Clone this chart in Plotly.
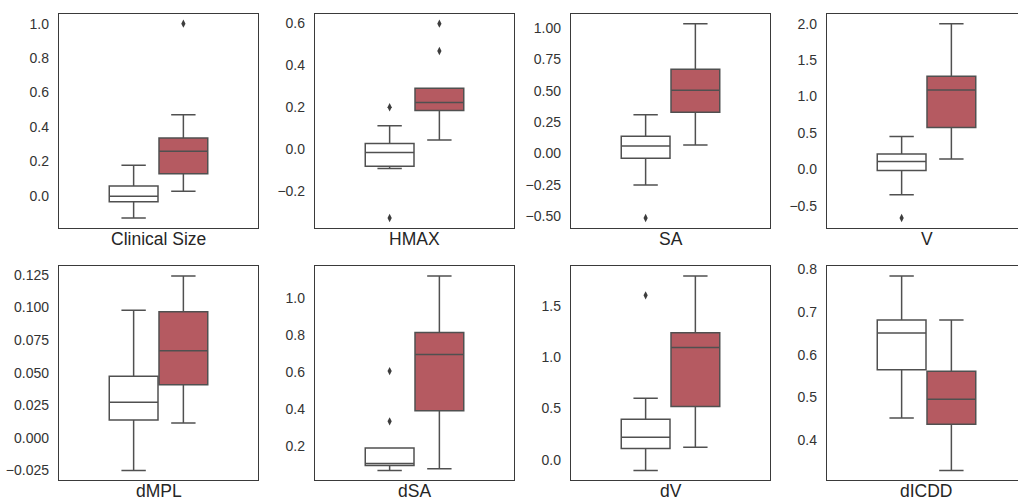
import plotly.graph_objects as go

categories = ["Clinical Size", "HMAX", "SA", "V", "dMPL", "dSA", "dV", "dICDD"]

white_lower  = [-0.130, -0.093, -0.250, -0.35, -0.0250, 0.065, -0.106, 0.452]
white_q1     = [-0.036, -0.082, -0.037, -0.018, 0.0137, 0.092, 0.109, 0.565]
white_median = [-0.004, -0.016, 0.061, 0.105, 0.0273, 0.103, 0.219, 0.651]
white_q3     = [0.056, 0.027, 0.137, 0.21, 0.0473, 0.187, 0.393, 0.681]
white_upper  = [0.177, 0.112, 0.308, 0.45, 0.0979, 0.187, 0.60, 0.784]
white_outliers = [[], [0.20, -0.329], [-0.513], [-0.67], [], [0.605, 0.332], [1.603], []]

red_lower  = [0.025, 0.044, 0.069, 0.14, 0.0114, 0.074, 0.122, 0.329]
red_q1     = [0.127, 0.184, 0.329, 0.573, 0.0407, 0.389, 0.519, 0.437]
red_median = [0.258, 0.222, 0.503, 1.087, 0.0668, 0.695, 1.094, 0.496]
red_q3     = [0.335, 0.290, 0.671, 1.278, 0.0966, 0.815, 1.239, 0.561]
red_upper  = [0.47, 0.290, 1.034, 2.0, 0.124, 1.121, 1.791, 0.681]
red_outliers = [[1.0], [0.599, 0.468], [], [], [], [], [], []]

tick_labels = [
    ["0.0", "0.2", "0.4", "0.6", "0.8", "1.0"],
    ["\u22120.2", "0.0", "0.2", "0.4", "0.6"],
    ["\u22120.50", "\u22120.25", "0.00", "0.25", "0.50", "0.75", "1.00"],
    ["\u22120.5", "0.0", "0.5", "1.0", "1.5", "2.0"],
    ["\u22120.025", "0.000", "0.025", "0.050", "0.075", "0.100", "0.125"],
    ["0.2", "0.4", "0.6", "0.8", "1.0"],
    ["0.0", "0.5", "1.0", "1.5"],
    ["0.4", "0.5", "0.6", "0.7", "0.8"],
]

W, H = 1018, 502
WHITE_POS, RED_POS, BOX_W = -0.125, 0.125, 0.245
LINE_C = "#505050"
FRAME_C = "#3a3a3a"
RED_C = "#b55a61"
FONT = "Liberation Sans, Arial, sans-serif"

fig = go.Figure()
layout = dict(width=W, height=H, margin=dict(l=0, r=0, t=0, b=0),
              paper_bgcolor="white", plot_bgcolor="white", showlegend=False)
annotations = []

for i, cat in enumerate(categories):
    row, col = divmod(i, 4)
    left = 59 + 256 * col
    right = left + 199
    top = 9 if row == 0 else 264
    bottom = 225 if row == 0 else 480
    xr_hi = -0.5 + (min(right, W) - left) / 199.0
    xd = [left / W, min(right, W) / W]
    yd = [1 - bottom / H, 1 - top / H]
    n = i + 1
    xa = "x" if n == 1 else f"x{n}"
    ya = "y" if n == 1 else f"y{n}"

    fig.add_trace(go.Box(
        x=[WHITE_POS], q1=[white_q1[i]], median=[white_median[i]], q3=[white_q3[i]],
        lowerfence=[white_lower[i]], upperfence=[white_upper[i]],
        width=BOX_W, whiskerwidth=0.5, fillcolor="white",
        line=dict(color=LINE_C, width=1.5), boxpoints=False,
        xaxis=xa, yaxis=ya, hoverinfo="skip"))
    fig.add_trace(go.Box(
        x=[RED_POS], q1=[red_q1[i]], median=[red_median[i]], q3=[red_q3[i]],
        lowerfence=[red_lower[i]], upperfence=[red_upper[i]],
        width=BOX_W, whiskerwidth=0.5, fillcolor=RED_C,
        line=dict(color=LINE_C, width=1.5), boxpoints=False,
        xaxis=xa, yaxis=ya, hoverinfo="skip"))
    if white_outliers[i]:
        fig.add_trace(go.Scatter(x=[WHITE_POS] * len(white_outliers[i]), y=white_outliers[i],
                                 mode="markers", xaxis=xa, yaxis=ya, hoverinfo="skip",
                                 marker=dict(symbol="diamond-tall", size=6, color="#3d3d3d")))
    if red_outliers[i]:
        fig.add_trace(go.Scatter(x=[RED_POS] * len(red_outliers[i]), y=red_outliers[i],
                                 mode="markers", xaxis=xa, yaxis=ya, hoverinfo="skip",
                                 marker=dict(symbol="diamond-tall", size=6, color="#3d3d3d")))

    allv = (white_lower[i:i+1] + white_upper[i:i+1] + red_lower[i:i+1] + red_upper[i:i+1]
            + white_outliers[i] + red_outliers[i])
    lo, hi = min(allv), max(allv)
    pad = 0.05 * (hi - lo)
    tvals = [float(t.replace("\u2212", "-")) for t in tick_labels[i]]

    is_last = (col == 3)
    layout["xaxis" if n == 1 else f"xaxis{n}"] = dict(
        domain=xd, range=[-0.5, xr_hi], showticklabels=False, ticks="",
        showgrid=False, zeroline=False, showline=True, mirror=True,
        linecolor=FRAME_C, linewidth=1.3, anchor=ya, fixedrange=True)
    layout["yaxis" if n == 1 else f"yaxis{n}"] = dict(
        domain=yd, range=[lo - pad, hi + pad], tickvals=tvals, ticktext=tick_labels[i],
        ticks="", showgrid=False, zeroline=False, showline=True, mirror=not is_last,
        linecolor=FRAME_C, linewidth=1.3, anchor=xa, ticklabelstandoff=6,
        tickfont=dict(family=FONT, size=14, color="#333333"), fixedrange=True)

    annotations.append(dict(
        text=cat, xref="paper", yref="paper", x=(left + 99.5) / W, y=yd[0],
        xanchor="center", yanchor="top", yshift=1, showarrow=False,
        font=dict(family=FONT, size=17.5, color="#262626")))

layout["annotations"] = annotations
fig.update_layout(**layout)
fig.write_html("out.html", config={"displayModeBar": False},
               post_script="document.body.style.margin='0';document.body.style.overflow='hidden';")
